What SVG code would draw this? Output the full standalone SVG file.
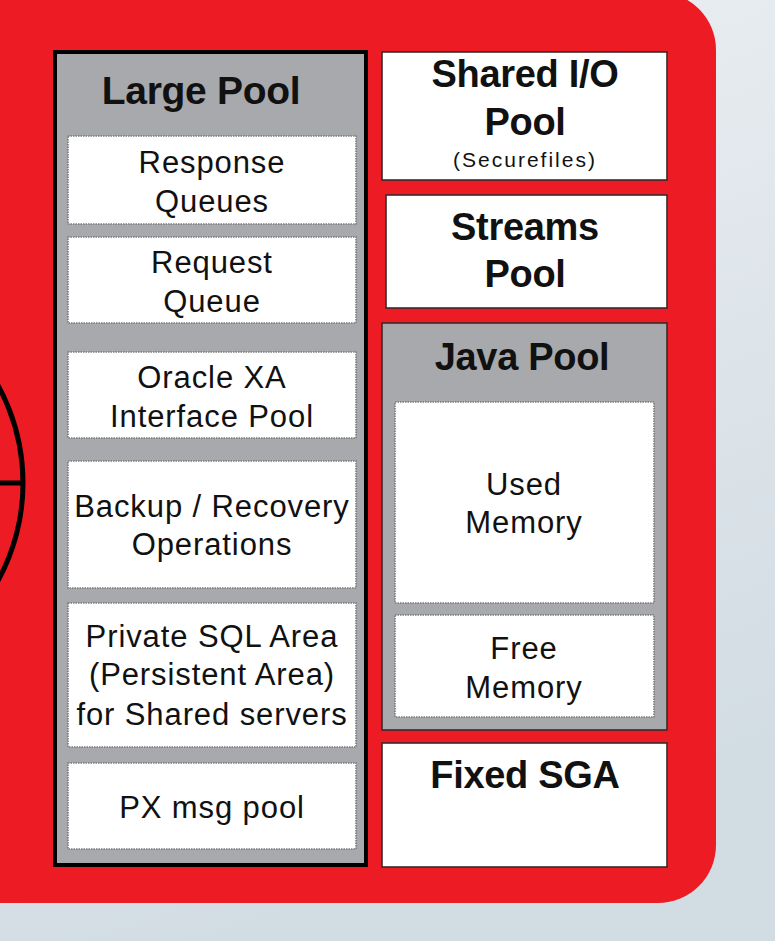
<svg xmlns="http://www.w3.org/2000/svg" width="775" height="941" viewBox="0 0 775 941">
<defs>
<linearGradient id="bg" x1="0" y1="0" x2="0.3" y2="1">
<stop offset="0" stop-color="#eef1f4"/>
<stop offset="1" stop-color="#d2dce3"/>
</linearGradient>
<style>
.t{font-family:"Liberation Sans",Arial,sans-serif;fill:#111;text-anchor:middle}
.r{font-size:31px;letter-spacing:0.9px}
.b{font-size:38px;font-weight:bold;letter-spacing:-0.3px}
.s{font-size:21px;letter-spacing:2px}
.inner{fill:#fff;stroke:#7a7a7a;stroke-width:1.6;stroke-dasharray:1.5 1}
.box{fill:#fff;stroke:#3a2a2a;stroke-width:1.6}
.gray{fill:#a7a9ac;stroke:#3a2a2a;stroke-width:1.6}
</style>
</defs>
<rect x="0" y="0" width="775" height="941" fill="url(#bg)"/>
<rect x="-60" y="-8" width="776" height="911" rx="58" ry="58" fill="#ed1c24"/>
<g id="circle" fill="none" stroke="#000" stroke-width="5">
<circle cx="-180" cy="483" r="203"/>
<line x1="-5" y1="483" x2="22" y2="483"/>
</g>
<g id="large-pool">
<rect x="55" y="52" width="311" height="813" fill="#a7a9ac" stroke="#000" stroke-width="4"/>
<text class="t b" x="201" y="104" style="font-size:39px">Large Pool</text>
</g>
<g id="response-queues">
<rect class="inner" x="68" y="136" width="288" height="88"/>
<text class="t r" x="212" y="173">Response</text>
<text class="t r" x="212" y="212">Queues</text>
</g>
<g id="request-queue">
<rect class="inner" x="68" y="237" width="288" height="86"/>
<text class="t r" x="212" y="273">Request</text>
<text class="t r" x="212" y="312">Queue</text>
</g>
<g id="oracle-xa">
<rect class="inner" x="68" y="352" width="288" height="86"/>
<text class="t r" x="212" y="388">Oracle XA</text>
<text class="t r" x="212" y="427">Interface Pool</text>
</g>
<g id="backup-recovery">
<rect class="inner" x="68" y="461" width="288" height="127"/>
<text class="t r" x="212" y="517">Backup / Recovery</text>
<text class="t r" x="212" y="555">Operations</text>
</g>
<g id="private-sql">
<rect class="inner" x="68" y="603" width="288" height="144"/>
<text class="t r" x="212" y="647">Private SQL Area</text>
<text class="t r" x="212" y="685">(Persistent Area)</text>
<text class="t r" x="212" y="725">for Shared servers</text>
</g>
<g id="px-msg-pool">
<rect class="inner" x="68" y="763" width="288" height="86"/>
<text class="t r" x="212" y="818">PX msg pool</text>
</g>
<g id="shared-io-pool">
<rect class="box" x="382" y="52" width="285" height="128"/>
<text class="t b" x="525" y="87">Shared I/O</text>
<text class="t b" x="525" y="135">Pool</text>
<text class="t s" x="525" y="167">(Securefiles)</text>
</g>
<g id="streams-pool">
<rect class="box" x="386" y="195" width="281" height="113"/>
<text class="t b" x="525" y="240">Streams</text>
<text class="t b" x="525" y="287">Pool</text>
</g>
<g id="java-pool">
<rect class="gray" x="382" y="323" width="285" height="407"/>
<text class="t b" x="522" y="370">Java Pool</text>
</g>
<g id="used-memory">
<rect class="inner" x="395" y="402" width="259" height="201"/>
<text class="t r" x="524" y="495">Used</text>
<text class="t r" x="524" y="533">Memory</text>
</g>
<g id="free-memory">
<rect class="inner" x="395" y="615" width="259" height="102"/>
<text class="t r" x="524" y="659">Free</text>
<text class="t r" x="524" y="698">Memory</text>
</g>
<g id="fixed-sga">
<rect class="box" x="382" y="743" width="285" height="124"/>
<text class="t b" x="525" y="788">Fixed SGA</text>
</g>
</svg>
